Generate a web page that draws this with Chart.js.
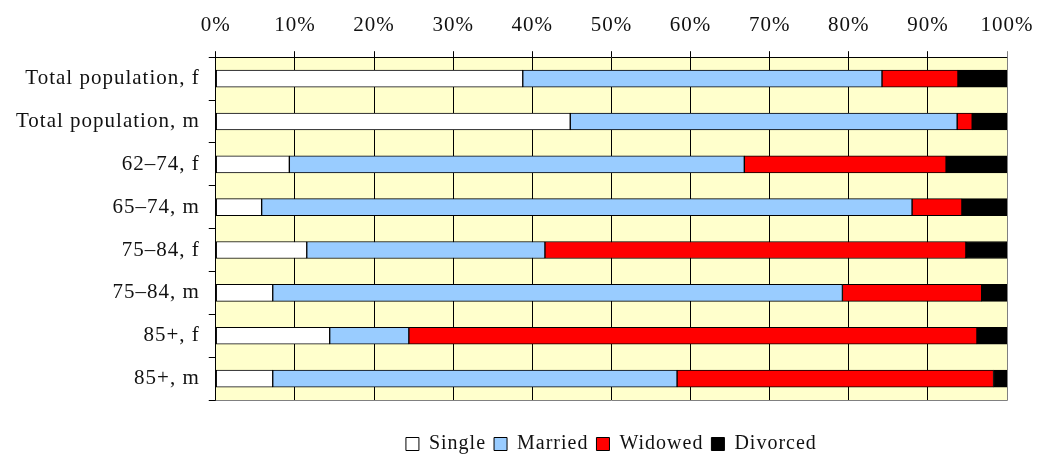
<!DOCTYPE html>
<html>
<head>
<meta charset="utf-8">
<script src="https://cdn.jsdelivr.net/npm/chart.js@4.4.1/dist/chart.umd.min.js"></script>
<style>
  html, body { margin: 0; padding: 0; background: #ffffff; }
  #wrap { width: 1039px; height: 454px; }
</style>
</head>
<body>
<div id="wrap"><canvas id="maritalChart" width="1039" height="454"></canvas></div>
<script>
// ========== DATA ==========
var categories = ["Total population, f", "Total population, m", "62\u201374, f", "65\u201374, m",
                  "75\u201384, f", "75\u201384, m", "85+, f", "85+, m"];
var single   = [38.8, 44.8,  9.3,  5.8, 11.5,  7.2, 14.4,  7.2];
var married  = [45.4, 48.9, 57.5, 82.2, 30.1, 72.0, 10.0, 51.1];
var widowed  = [ 9.6,  1.9, 25.5,  6.3, 53.2, 17.6, 71.8, 40.0];
var divorced = [ 6.2,  4.4,  7.7,  5.7,  5.2,  3.2,  3.8,  1.7];
var xTicks = [0, 10, 20, 30, 40, 50, 60, 70, 80, 90, 100];

document.addEventListener("DOMContentLoaded", function () {

  Chart.defaults.font.family = "'Liberation Serif', 'Times New Roman', serif";
  Chart.defaults.font.size = 21;
  Chart.defaults.color = "#111111";

  // slightly spaced-out lettering like the original,
  // and push the legend down towards the bottom edge
  var spacing = {
    id: "spacing",
    beforeUpdate: function (chart) { chart.ctx.letterSpacing = "1px"; },
    beforeDraw: function (chart) { chart.ctx.letterSpacing = "1px"; },
    afterLayout: function (chart) {
      var lg = chart.legend;
      if (lg) { lg.top += 26; lg.bottom += 26; }
    }
  };

  // yellow plot background + grey right/bottom frame
  var plotFrame = {
    id: "plotFrame",
    beforeDraw: function (chart) {
      var a = chart.chartArea, c = chart.ctx;
      c.save();
      c.fillStyle = "#ffffcc";
      c.fillRect(a.left, a.top, a.right - a.left, a.bottom - a.top);
      c.restore();
    },
    afterDatasetsDraw: function (chart) {
      var a = chart.chartArea, c = chart.ctx;
      c.save();
      c.strokeStyle = "#808080";
      c.lineWidth = 1;
      c.beginPath();
      c.moveTo(a.right + 0.5, a.top);
      c.lineTo(a.right + 0.5, a.bottom + 0.5);
      c.lineTo(a.left, a.bottom + 0.5);
      c.stroke();
      c.restore();
    }
  };

  function ds(label, data, color) {
    return {
      label: label,
      data: data,
      backgroundColor: color,
      borderColor: "#000000",
      borderWidth: 1,
      borderSkipped: false,
      barThickness: 17
    };
  }

  new Chart(document.getElementById("maritalChart"), {
    type: "bar",
    data: {
      labels: categories,
      datasets: [
        ds("Single", single, "#ffffff"),
        ds("Married", married, "#99ccff"),
        ds("Widowed", widowed, "#ff0000"),
        ds("Divorced", divorced, "#000000")
      ]
    },
    options: {
      indexAxis: "y",
      responsive: false,
      animation: false,
      layout: { padding: { left: 7, right: 0, top: 0, bottom: 16 } },
      plugins: {
        legend: {
          position: "bottom",
          fullSize: false,
          labels: {
            boxWidth: 13,
            boxHeight: 13,
            padding: 8,
            color: "#111111",
            font: { size: 20 }
          }
        },
        tooltip: { enabled: false }
      },
      scales: {
        x: {
          position: "top",
          stacked: true,
          min: 0,
          max: 100,
          afterBuildTicks: function (axis) {
            axis.ticks = xTicks.map(function (v) { return { value: v }; });
          },
          afterFit: function (axis) { axis.paddingRight = 32; },
          ticks: {
            padding: 13,
            callback: function (v) { return v + "%"; }
          },
          grid: {
            color: function (ctx) { return ctx.index === xTicks.length - 1 ? "#808080" : "#000000"; },
            lineWidth: 1,
            tickLength: 6
          },
          border: { color: "#000000" }
        },
        y: {
          stacked: true,
          ticks: { padding: 9 },
          grid: {
            offset: true,
            drawOnChartArea: false,
            color: "#000000",
            tickLength: 7
          },
          border: { color: "#000000" }
        }
      }
    },
    plugins: [spacing, plotFrame]
  });

});
</script>
</body>
</html>
